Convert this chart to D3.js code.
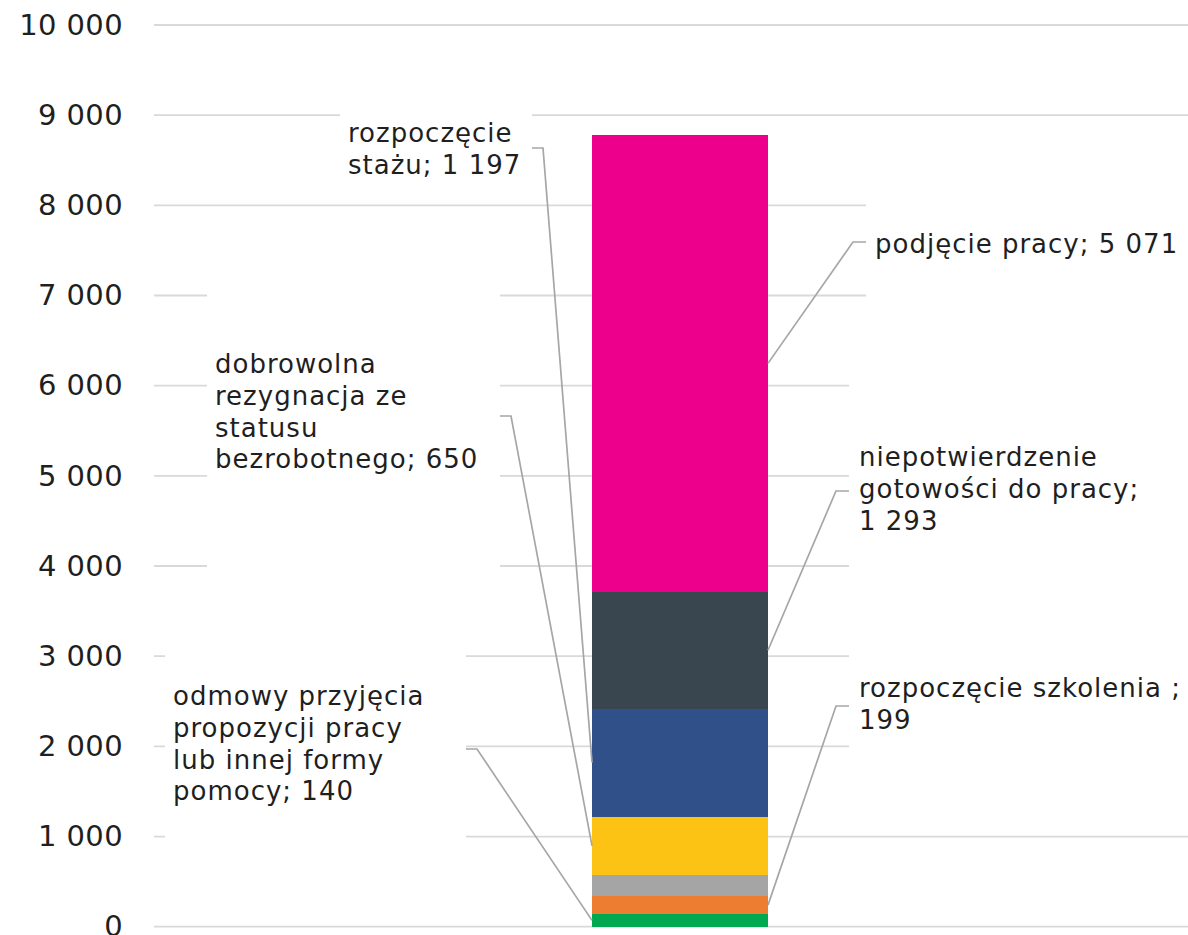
<!DOCTYPE html>
<html>
<head>
<meta charset="utf-8">
<script src="https://cdn.jsdelivr.net/npm/d3@7"></script>
<style>
  body { margin: 0; background: #fff; }
  svg { display: block; font-family: "DejaVu Sans", sans-serif; }
</style>
</head>
<body>
<div id="chart"></div>
<script>
// stacked from the bottom up
const categories = [
  "odmowy przyjęcia propozycji pracy lub innej formy pomocy",
  "rozpoczęcie szkolenia",
  "inne",
  "dobrowolna rezygnacja ze statusu bezrobotnego",
  "rozpoczęcie stażu",
  "niepotwierdzenie gotowości do pracy",
  "podjęcie pracy"
];
const values = [140, 199, 233, 650, 1197, 1293, 5071];
const colors = ["#00a84f", "#ed7d31", "#a5a5a5", "#fcc314", "#2f5089", "#39464f", "#ec008c"];
const yTicks = [0, 1000, 2000, 3000, 4000, 5000, 6000, 7000, 8000, 9000, 10000];

// label text lines (null = no label)
const labelLines = [
  ["odmowy przyjęcia", "propozycji pracy", "lub innej formy", "pomocy; 140"],
  ["rozpoczęcie szkolenia ;", "199"],
  null,
  ["dobrowolna", "rezygnacja ze", "statusu", "bezrobotnego; 650"],
  ["rozpoczęcie", "stażu; 1 197"],
  ["niepotwierdzenie", "gotowości do pracy;", "1 293"],
  ["podjęcie pracy; 5 071"]
];

// label box placement (pixels), side = which bar edge the leader goes to
const labelLayout = [
  { side: "left",  box: [165, 650, 301, 192], tx: 173, ty: 705, lead: 749 },
  { side: "right", box: [849, 650, 360, 102], tx: 859, ty: 697, lead: 706 },
  null,
  { side: "left",  box: [207, 285, 293, 290], tx: 215, ty: 373, lead: 416 },
  { side: "left",  box: [340, 100, 192, 96],  tx: 348, ty: 142, lead: 148 },
  { side: "right", box: [849, 380, 360, 192], tx: 859, ty: 466, lead: 491 },
  { side: "right", box: [866, 200, 340, 100], tx: 875, ty: 253, lead: 242 }
];

const width = 1188, height = 935;
const plotLeft = 154;

const svg = d3.select("#chart").append("svg")
  .attr("width", width)
  .attr("height", height);

const y = d3.scaleLinear().domain([0, 10000]).range([926.7, 25]);
const x = d3.scaleBand().domain(["all"]).range([plotLeft, 1206]).padding(0.7134);

let acc = 0;
const stack = values.map((v, i) => {
  const d = { i: i, name: categories[i], y0: acc, y1: acc + v, color: colors[i] };
  acc += v;
  return d;
});

// gridlines
svg.append("g").selectAll("line")
  .data(yTicks)
  .enter().append("line")
  .attr("x1", plotLeft).attr("x2", width)
  .attr("y1", d => y(d)).attr("y2", d => y(d))
  .attr("stroke", "#d9d9d9")
  .attr("stroke-width", 1.8);

// y axis labels
const fmt = d3.formatLocale({ decimal: ",", thousands: " ", grouping: [3], currency: ["", ""] }).format(",");
const yAxis = svg.append("g")
  .attr("transform", "translate(" + plotLeft + ",0)")
  .call(d3.axisLeft(y).tickValues(yTicks).tickSize(0).tickPadding(31).tickFormat(fmt));
yAxis.select(".domain").remove();
yAxis.selectAll("text")
  .attr("font-size", 29)
  .attr("letter-spacing", 0.4)
  .attr("font-family", "DejaVu Sans, sans-serif")
  .attr("fill", "#1f1f1f");

// white label boxes hide the gridlines underneath
const labels = stack.filter(d => labelLayout[d.i]);
svg.append("g").selectAll("rect")
  .data(labels)
  .enter().append("rect")
  .attr("x", d => labelLayout[d.i].box[0])
  .attr("y", d => labelLayout[d.i].box[1])
  .attr("width", d => labelLayout[d.i].box[2])
  .attr("height", d => labelLayout[d.i].box[3])
  .attr("fill", "#fff");

// bar segments
svg.append("g").selectAll("rect")
  .data(stack)
  .enter().append("rect")
  .attr("x", x("all"))
  .attr("width", x.bandwidth())
  .attr("y", d => y(d.y1))
  .attr("height", d => y(d.y0) - y(d.y1))
  .attr("fill", d => d.color)
  .attr("shape-rendering", "crispEdges");

// leader lines
svg.append("g").selectAll("polyline")
  .data(labels)
  .enter().append("polyline")
  .attr("points", function(d) {
    const L = labelLayout[d.i];
    const midY = y((d.y0 + d.y1) / 2);
    let bx, sx, ex;
    if (L.side === "left") {
      bx = L.box[0] + L.box[2];
      sx = bx + 11;
      ex = x("all");
    } else {
      bx = L.box[0];
      sx = bx - 13;
      ex = x("all") + x.bandwidth();
    }
    return [[bx, L.lead], [sx, L.lead], [ex, midY]].map(p => p.join(",")).join(" ");
  })
  .attr("fill", "none")
  .attr("stroke", "#a6a6a6")
  .attr("stroke-width", 1.7);

// label texts
svg.append("g").selectAll("text")
  .data(labels)
  .enter().append("text")
  .attr("font-size", 26)
  .attr("letter-spacing", 1)
  .attr("fill", "#1f1f1f")
  .each(function(d) {
    const L = labelLayout[d.i];
    d3.select(this).selectAll("tspan")
      .data(labelLines[d.i])
      .enter().append("tspan")
      .attr("x", L.tx)
      .attr("y", (t, k) => L.ty + k * 31.8)
      .text(t => t);
  });
</script>
</body>
</html>
